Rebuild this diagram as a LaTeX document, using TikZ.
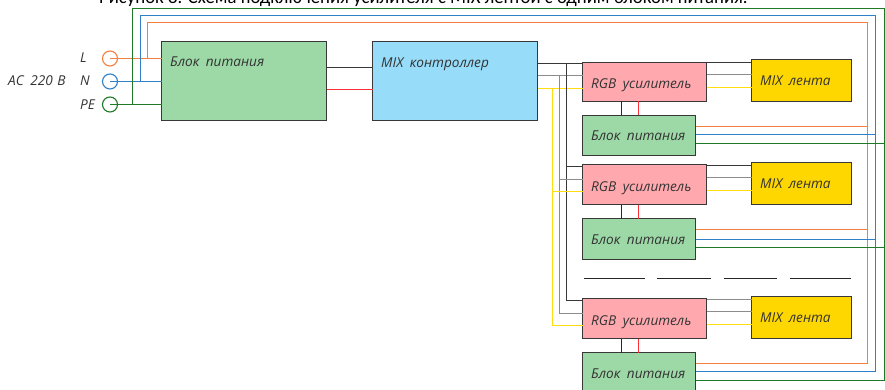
\documentclass[tikz,border=0pt]{standalone}
\usepackage{fontspec}
\setmainfont{Open Sans}
\newfontfamily\titlefont{Carlito}
\usetikzlibrary{calc}
\definecolor{boxgreen}{HTML}{9CD9A6}
\definecolor{boxblue}{HTML}{97DCF8}
\definecolor{boxpink}{HTML}{FFA9AF}
\definecolor{boxyellow}{HTML}{FFD700}
\definecolor{wireorange}{HTML}{F4803F}
\definecolor{wireblue}{HTML}{2F80C8}
\definecolor{wiregreen}{HTML}{1F7A28}
\definecolor{wireyellow}{HTML}{FFDD10}
\definecolor{wirered}{HTML}{FF3038}
\definecolor{wiredark}{HTML}{383838}
\definecolor{wiregray}{HTML}{8C8C8C}
\tikzset{
  x=1pt,y=-1pt,
  box/.style={draw=black!78,line width=0.95pt,anchor=north west,inner sep=0pt,outer sep=0pt},
  lbl/.style={anchor=base west,inner sep=0pt,font=\fontsize{13.6}{15}\selectfont\itshape,text=black!80},
  term/.style={circle,draw=#1,line width=1.1pt,minimum size=15pt,inner sep=0pt},
  wo/.style={draw=wireorange,line width=1.4pt},
  wb/.style={draw=wireblue,line width=1.4pt},
  wg/.style={draw=wiregreen,line width=1.4pt},
  wy/.style={draw=wireyellow,line width=1.4pt},
  wr/.style={draw=wirered,line width=1.4pt},
  wd/.style={draw=wiredark,line width=1.2pt},
  wa/.style={draw=wiregray,line width=1.25pt},
  wk/.style={draw=black!85,line width=1.2pt},
}
\begin{document}
\begin{tikzpicture}
\useasboundingbox (0,0) rectangle (885,390);
\node[anchor=base west,inner sep=0pt,font=\titlefont\fontsize{18.7}{20}\selectfont] (title) at (99,3.5) {Рисунок 8. Схема подключения усилителя с MIX лентой с одним блоком питания.};
% boxes
\node[box,fill=boxgreen,minimum width=165pt,minimum height=79pt] (psu) at (161.5,41.5) {};
\node[box,fill=boxblue,minimum width=165pt,minimum height=79pt] (ctrl) at (372.5,41.5) {};
\node[box,fill=boxpink,minimum width=124pt,minimum height=39pt] (rgbA) at (582.5,62.5) {};
\node[box,fill=boxgreen,minimum width=113pt,minimum height=40pt] (psuA) at (582.5,115.5) {};
\node[box,fill=boxyellow,minimum width=100pt,minimum height=42pt] (mixA) at (751.5,59.5) {};
\node[box,fill=boxpink,minimum width=124pt,minimum height=40pt] (rgbB) at (582.5,164.5) {};
\node[box,fill=boxgreen,minimum width=113pt,minimum height=41pt] (psuB) at (582.5,218.5) {};
\node[box,fill=boxyellow,minimum width=100pt,minimum height=42pt] (mixB) at (751.5,162.5) {};
\node[box,fill=boxpink,minimum width=124pt,minimum height=40pt] (rgbC) at (582.5,298.5) {};
\node[box,fill=boxgreen,minimum width=113pt,minimum height=41pt] (psuC) at (582.5,352.5) {};
\node[box,fill=boxyellow,minimum width=100pt,minimum height=42pt] (mixC) at (751.5,296.5) {};
% terminals
\node[term=wireorange] (tL) at (110,58.5) {};
\node[term=wireblue] (tN) at (110,81.5) {};
\node[term=wiregreen] (tPE) at (110,104.5) {};
% mains wires
\draw[wo] (tL.center) -- (psu.west |- tL);
\draw[wb] (tN.center) -- (psu.west |- tN);
\draw[wg] (tPE.center) -- (psu.west |- tPE);
% rail corners
\coordinate (oT) at (147.5,22.5); \coordinate (oR) at (867.5,22.5); \coordinate (oB) at (867.5,363.5);
\coordinate (bT) at (140.5,15.5); \coordinate (bR) at (875.5,15.5); \coordinate (bB) at (875.5,371.5);
\coordinate (gT) at (132.5,8.5);  \coordinate (gR) at (884.3,8.5);  \coordinate (gB) at (884.3,380.5);
\draw[wo] (oT |- tL) -- (oT) -- (oR) -- (oB) -- (psuC.east |- oB);
\draw[wb] (bT |- tN) -- (bT) -- (bR) -- (bB) -- (psuC.east |- bB);
\draw[wg] (gT |- tPE) -- (gT) -- (gR) -- (gB) -- (psuC.east |- gB);
\draw[wo] (psuA.east |- 0,126.5) -- (oR |- 0,126.5);
\draw[wb] (psuA.east |- 0,134.5) -- (bR |- 0,134.5);
\draw[wg] (psuA.east |- 0,143.5) -- (gR |- 0,143.5);
\draw[wo] (psuB.east |- 0,229.5) -- (oR |- 0,229.5);
\draw[wb] (psuB.east |- 0,239.5) -- (bR |- 0,239.5);
\draw[wg] (psuB.east |- 0,247.5) -- (gR |- 0,247.5);
% PSU to controller
\draw[wd] (psu.east |- 0,67.5) -- (ctrl.west |- 0,67.5);
\draw[wr] (psu.east |- 0,89.5) -- (ctrl.west |- 0,89.5);
% controller outputs
\draw[wd] (ctrl.east |- 0,63.5) -- (rgbA.west |- 0,63.5);
\draw[wa] (ctrl.east |- 0,75.5) -- (rgbA.west |- 0,75.5);
\draw[wy] (ctrl.east |- 0,88.5) -- (rgbA.west |- 0,88.5);
\coordinate (vd) at (566.5,63.5);
\coordinate (va) at (559.5,75.5);
\coordinate (vy) at (552.5,88.5);
\draw[wd] (vd) -- (vd |- 0,300.5) -- (rgbC.west |- 0,300.5);
\draw[wa] (va) -- (va |- 0,313.5) -- (rgbC.west |- 0,313.5);
\draw[wy] (vy) -- (vy |- 0,325.5) -- (rgbC.west |- 0,325.5);
\draw[wd] (vd |- 0,166.5) -- (rgbB.west |- 0,166.5);
\draw[wa] (va |- 0,179.5) -- (rgbB.west |- 0,179.5);
\draw[wy] (vy |- 0,191.5) -- (rgbB.west |- 0,191.5);
% RGB to PSU
\foreach \r/\p in {rgbA/psuA,rgbB/psuB,rgbC/psuC}{
  \draw[wk] (\r.south -| 621.5,0) -- (\p.north -| 621.5,0);
  \draw[wr] (\r.south -| 638.5,0) -- (\p.north -| 638.5,0);
}
% RGB to MIX
\draw[wd] (rgbA.east |- 0,62.5) -- (mixA.west |- 0,62.5);
\draw[wa] (rgbA.east |- 0,74.5) -- (mixA.west |- 0,74.5);
\draw[wy] (rgbA.east |- 0,87.5) -- (mixA.west |- 0,87.5);
\draw[wd] (rgbB.east |- 0,165.5) -- (mixB.west |- 0,165.5);
\draw[wa] (rgbB.east |- 0,177.5) -- (mixB.west |- 0,177.5);
\draw[wy] (rgbB.east |- 0,190.5) -- (mixB.west |- 0,190.5);
\draw[wa] (rgbC.east |- 0,299.5) -- (mixC.west |- 0,299.5);
\draw[wa] (rgbC.east |- 0,311.5) -- (mixC.west |- 0,311.5);
\draw[wy] (rgbC.east |- 0,324.5) -- (mixC.west |- 0,324.5);
% break marks
\coordinate (d1a) at (584,278.5); \coordinate (d1b) at (645,278.5);
\coordinate (d2a) at (657,278.5); \coordinate (d2b) at (711,278.5);
\coordinate (d3a) at (724,278.5); \coordinate (d3b) at (777,278.5);
\coordinate (d4a) at (790,278.5); \coordinate (d4b) at (851,278.5);
\draw[wk] (d1a) -- (d1b);
\draw[wk] (d2a) -- (d2b);
\draw[wk] (d3a) -- (d3b);
\draw[wk] (d4a) -- (d4b);
% labels
\node[lbl] (lac) at (8,85.5) {AC\hspace{3pt} 220\hspace{1pt} В};
\node[lbl] (lL) at (80,63) {L};
\node[lbl] (lN) at (80,85.5) {N};
\node[lbl] (lPE) at (80,109.5) {PE};
\newcommand{\psutext}{Блок\hspace{3pt} питания}
\newcommand{\rgbtext}{RGB\hspace{3pt} усилитель}
\newcommand{\mixtext}{MIX\hspace{3pt} лента}
\node[lbl] (t0) at (170,67) {\psutext};
\node[lbl] (t1) at (381,68) {MIX\hspace{3pt} контроллер};
\node[lbl] (t2) at (591,88.5) {\rgbtext};
\node[lbl] (t3) at (591,141) {\psutext};
\node[lbl] (t4) at (760,86) {\mixtext};
\node[lbl] (t5) at (591,191) {\rgbtext};
\node[lbl] (t6) at (591,244) {\psutext};
\node[lbl] (t7) at (760,188) {\mixtext};
\node[lbl] (t8) at (591,325) {\rgbtext};
\node[lbl] (t9) at (591,378) {\psutext};
\node[lbl] (t10) at (760,322) {\mixtext};
\end{tikzpicture}
\end{document}
